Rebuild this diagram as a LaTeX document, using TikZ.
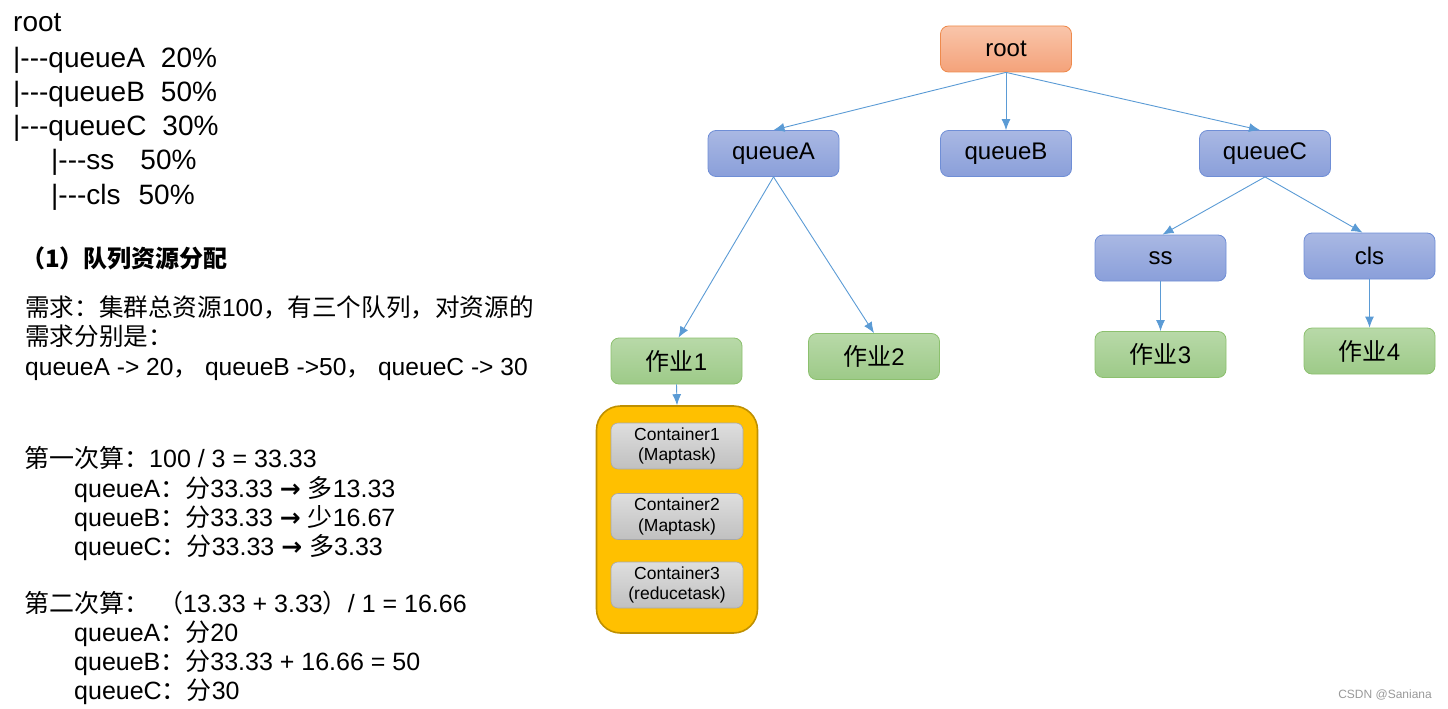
\documentclass[tikz,border=0pt]{standalone}
\usepackage{fontspec}
\setmainfont{Liberation Sans}
\newfontfamily\cjk{Noto Sans CJK SC}
\newfontfamily\arrowfont{DejaVu Sans}
\usetikzlibrary{arrows.meta}
\newcommand\zh[1]{{\cjk #1}}
\newcommand\rarr{{\arrowfont\bfseries →}}
\newcommand\dashes{-{}-{}-}
\definecolor{arrowblue}{HTML}{5B9BD5}
\definecolor{bluetop}{HTML}{A9B8E3}
\definecolor{bluebot}{HTML}{8A9FDA}
\definecolor{blueline}{HTML}{6F8ED6}
\definecolor{greentop}{HTML}{B8D9A8}
\definecolor{greenbot}{HTML}{9DCA88}
\definecolor{greenline}{HTML}{8CC06E}
\definecolor{orgtop}{HTML}{F9C5AA}
\definecolor{orgbot}{HTML}{F4A27A}
\definecolor{orgline}{HTML}{EE8A4C}
\definecolor{graytop}{HTML}{DEDEDE}
\definecolor{graybot}{HTML}{C0C0C0}
\definecolor{grayline}{HTML}{A8A8A8}
\definecolor{gold}{HTML}{FFC000}
\definecolor{goldline}{HTML}{BF9000}
\begin{document}
\begin{tikzpicture}[x=1pt,y=-1pt,
  big/.style={anchor=base west, inner sep=0pt, font=\fontsize{28}{32}\selectfont},
  body/.style={anchor=base west, inner sep=0pt, font=\fontsize{24.6}{28}\selectfont},
  calc/.style={anchor=base west, inner sep=0pt, font=\fontsize{25}{29}\selectfont},
  box/.style={rounded corners=8pt, minimum width=131pt, minimum height=46pt, inner sep=0pt,
    font=\fontsize{24}{28}\selectfont, line width=0.8pt},
  qbox/.style={box, draw=blueline, top color=bluetop, bottom color=bluebot},
  jbox/.style={box, draw=greenline, top color=greentop, bottom color=greenbot},
  rbox/.style={box, draw=orgline, top color=orgtop, bottom color=orgbot},
  cbox/.style={rounded corners=7pt, minimum width=132pt, minimum height=46pt, inner sep=0pt,
    draw=grayline, top color=graytop, bottom color=graybot, line width=0.6pt,
    align=center, font=\fontsize{17.5}{20.5}\selectfont},
  conn/.style={draw=arrowblue, line width=0.9pt, -{Latex[length=11pt,width=9pt]}}
]
\useasboundingbox (0,0) rectangle (1448,709);

% left text block 1
\node[big] (t1) at (13,32) {root};
\node[big] (t2) at (13,67) {|\dashes queueA\hspace{16pt}20\%};
\node[big] (t3) at (13,101.5) {|\dashes queueB\hspace{16pt}50\%};
\node[big] (t4) at (13,135.5) {|\dashes queueC\hspace{16pt}30\%};
\node[big] (t5) at (51,169.5) {|\dashes ss\hspace{26pt}50\%};
\node[big] (t6) at (51,204) {|\dashes cls\hspace{18pt}50\%};

% block 2
\node[anchor=base west, inner sep=0pt, font=\fontsize{24}{28}\selectfont] (h1) at (21,267) {{\cjk\bfseries （1）队列资源分配}};
\node[body] (r1) at (25,316) {\zh{需求：集群总资源}100\zh{，有三个队列，对资源的}};
\node[body] (r2) at (25,345.5) {\zh{需求分别是：}};
\node[body] (r3) at (25,375) {queueA -> 20\zh{，} queueB ->50\zh{，} queueC -> 30};

% block 3
\node[calc] (s1) at (24,467) {\zh{第一次算：}100 / 3 = 33.33};
\node[calc] (s2) at (74,497) {queueA\zh{：分}33.33 \rarr{} \zh{多}13.33};
\node[calc] (s3) at (74,526) {queueB\zh{：分}33.33 \rarr{} \zh{少}16.67};
\node[calc] (s4) at (74,555.5) {queueC\zh{：分}33.33 \rarr{} \zh{多}3.33};
\node[calc] (u1) at (24,612) {\zh{第二次算：}\hspace{9pt}\zh{（}13.33 + 3.33\zh{）}/ 1 = 16.66};
\node[calc] (u2) at (74,641.5) {queueA\zh{：分}20};
\node[calc] (u3) at (74,670) {queueB\zh{：分}33.33 + 16.66 = 50};
\node[calc] (u4) at (74,699) {queueC\zh{：分}30};

% tree
\node[rbox] (root) at (1006,49) {root};
\node[qbox] (qa) at (773.5,153.5) {queueA};
\node[qbox] (qb) at (1006,153.5) {queueB};
\node[qbox] (qc) at (1265,153.5) {queueC};
\node[qbox] (ss) at (1160.5,258) {ss};
\node[qbox] (cls) at (1369.5,256) {cls};
\node[jbox] (j1) at (676.5,361) {\zh{作业}1};
\node[jbox] (j2) at (874,356.5) {\zh{作业}2};
\node[jbox] (j3) at (1160.5,354.5) {\zh{作业}3};
\node[jbox] (j4) at (1369.5,351) {\zh{作业}4};

\node[draw=goldline, fill=gold, line width=1.6pt, rounded corners=24pt,
      minimum width=161pt, minimum height=227pt, inner sep=0pt] (pool) at (677,519.5) {};
\node[cbox] (c1) at (677,446) {Container1\\(Maptask)};
\node[cbox] (c2) at (677,516.5) {Container2\\(Maptask)};
\node[cbox] (c3) at (677,585) {Container3\\(reducetask)};

\draw[conn] (root.south) -- (qa.north);
\draw[conn] (root.south) -- (qb.north);
\draw[conn] (root.south) -- ([xshift=-5pt]qc.north);
\draw[conn] (qa.south) -- ([xshift=2pt]j1.north);
\draw[conn] (qa.south) -- (j2.north);
\draw[conn] (qc.south) -- ([xshift=2pt]ss.north);
\draw[conn] (qc.south) -- ([xshift=-7pt]cls.north);
\draw[conn] (ss.south) -- (j3.north);
\draw[conn] (cls.south) -- (j4.north);
\draw[conn] (j1.south) -- (pool.north);

\node[anchor=base east, inner sep=0pt, text=gray!80, font=\fontsize{12}{14}\selectfont] (wm) at (1432,698) {CSDN @Saniana};
\end{tikzpicture}
\end{document}
